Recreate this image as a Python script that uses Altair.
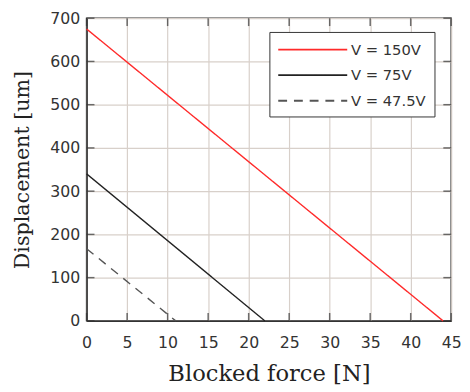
import altair as alt
import pandas as pd

series = ["V = 150V", "V = 75V", "V = 47.5V"]
force_start = [0, 0, 0]
force_end = [44, 22, 11]
disp_start = [675, 340, 167]
disp_end = [0, 0, 0]

x_ticks = list(range(0, 46, 5))
y_ticks = list(range(0, 701, 100))

rows = []
for s, f0, f1, d0, d1 in zip(series, force_start, force_end, disp_start, disp_end):
    rows.append({"series": s, "force": f0, "disp": d0})
    rows.append({"series": s, "force": f1, "disp": d1})
df = pd.DataFrame(rows)

xs = alt.Scale(domain=[0, 45], nice=False)
ys = alt.Scale(domain=[0, 700], nice=False)

lines = alt.Chart(df).mark_line(strokeWidth=1.4).encode(
    x=alt.X("force:Q", scale=xs,
            axis=alt.Axis(values=x_ticks, title="Blocked force [N]", labelFlush=False)),
    y=alt.Y("disp:Q", scale=ys,
            axis=alt.Axis(values=y_ticks, title="Displacement [um]", labelFlush=False)),
    color=alt.Color("series:N", sort=series,
                    scale=alt.Scale(domain=series, range=["#ff2a2a", "#222222", "#555555"]),
                    legend=alt.Legend(title=None, orient="none", legendX=186, legendY=14,
                                      strokeColor="#333333", fillColor="white", padding=8,
                                      symbolType="M-1,0L6.8,0", symbolSize=324, symbolStrokeWidth=1.8,
                                      labelFont="DejaVu Sans", labelFontSize=15, labelColor="#333333",
                                      rowPadding=8, labelOffset=55)),
    strokeDash=alt.StrokeDash("series:N", sort=series,
                              scale=alt.Scale(domain=series, range=[[1, 0], [1, 0], [9, 7]]),
                              legend=None),
)

xt = pd.DataFrame({"v": x_ticks})
yt = pd.DataFrame({"v": y_ticks})
tick_style = dict(color="#333333", thickness=1.5, size=8)

bottom_ticks = alt.Chart(xt).mark_tick(orient="vertical", yOffset=-4, **tick_style).encode(
    x=alt.X("v:Q", scale=xs), y=alt.datum(0, scale=ys))
top_ticks = alt.Chart(xt).mark_tick(orient="vertical", yOffset=4, **tick_style).encode(
    x=alt.X("v:Q", scale=xs), y=alt.datum(700, scale=ys))
left_ticks = alt.Chart(yt).mark_tick(orient="horizontal", xOffset=4, **tick_style).encode(
    y=alt.Y("v:Q", scale=ys), x=alt.datum(0, scale=xs))
right_ticks = alt.Chart(yt).mark_tick(orient="horizontal", xOffset=-4, **tick_style).encode(
    y=alt.Y("v:Q", scale=ys), x=alt.datum(45, scale=xs))

chart = alt.layer(lines, bottom_ticks, top_ticks, left_ticks, right_ticks).properties(
    width=371, height=308,
    padding={"left": 80, "top": 7, "right": 11, "bottom": 69},
    autosize=alt.AutoSizeParams(type="none"),
).configure_view(
    stroke="#333333", strokeWidth=1.5
).configure_axis(
    gridColor="#d8d0ca", gridWidth=1.2, gridOpacity=1,
    domainColor="#333333", domainWidth=1.5,
    ticks=False,
    labelFont="DejaVu Sans", labelFontSize=16, labelColor="#333333",
    titleFont="DejaVu Serif", titleFontWeight="normal", titleColor="#222222",
).configure_axisX(
    labelPadding=14, titlePadding=13, titleFontSize=23,
).configure_axisY(
    labelPadding=7, titlePadding=18, titleFontSize=21,
)

chart.save("out.html", embed_options={"renderer": "svg", "actions": False})
